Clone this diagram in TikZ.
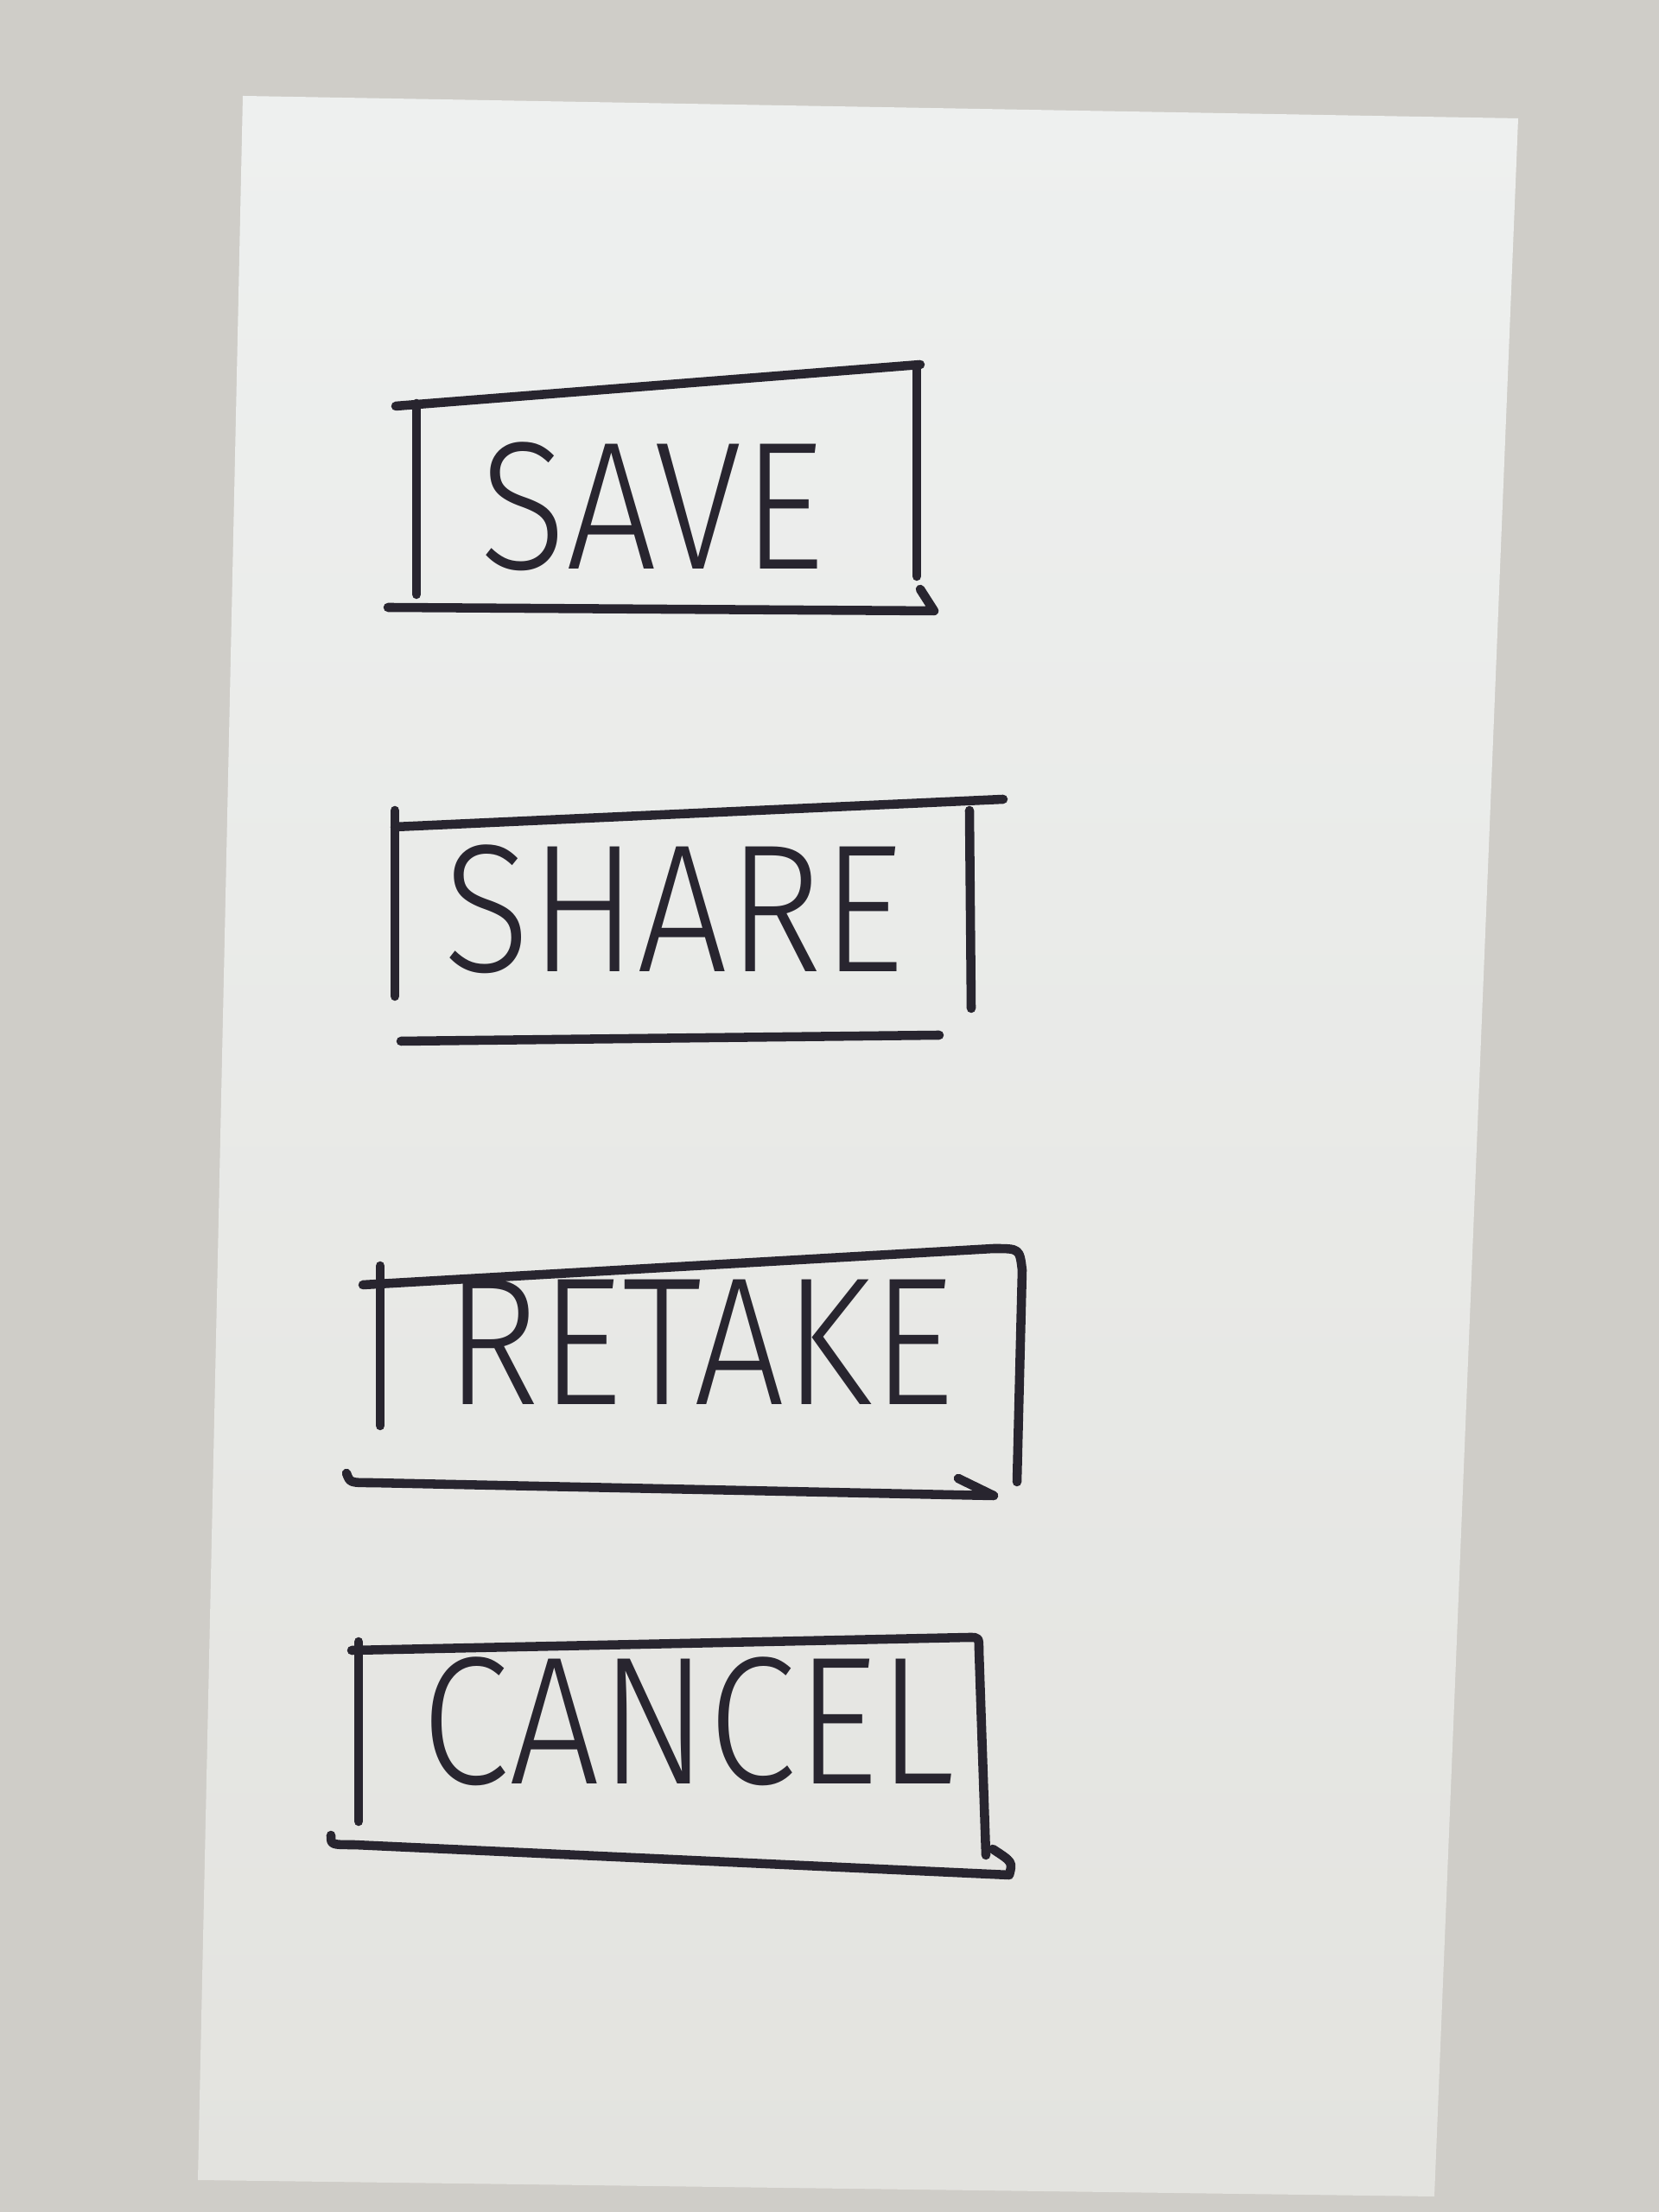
\documentclass[tikz,border=0pt]{standalone}
\usepackage{fontspec}
\setmainfont{Fira Sans Light}
\definecolor{ink}{HTML}{28252F}
\definecolor{desk}{HTML}{CFCDC8}
\definecolor{cardtop}{HTML}{EEF0EF}
\definecolor{cardbottom}{HTML}{E3E3DF}

\begin{document}
\begin{tikzpicture}[
    every node/.style={
        inner sep=0pt,
        text=ink,
        font=\fontsize{60}{60}\selectfont,
        xscale=.88
      },
    pen/.style={draw=ink, line width=3pt, line cap=round, line join=round}
    ]

    % ============= DESK AND CARD ==================
    \fill[desk] (0,0) rectangle (19.2,25.6);
    \useasboundingbox (0,0) rectangle (19.2,25.6);
    \shade[top color=cardtop, bottom color=cardbottom]
      (2.81,24.49) -- (17.57,24.23) -- (16.60,0.18) -- (2.29,0.37) -- cycle;

    % ============= BUTTONS ==================

    % -------------------------------
    \node (save) at (7.55,19.74) {SAVE};
    \draw[pen] (4.58,20.90) -- (10.65,21.38);
    \draw[pen] (4.82,20.93) -- (4.82,18.72);
    \draw[pen] (10.61,21.37) -- (10.61,18.93);
    \draw[pen] (4.49,18.57) -- (10.81,18.53) -- (10.65,18.78);
    % -------------------------------

    % -------------------------------
    \node (share) at (7.80,15.08) {SHARE};
    \draw[pen] (4.57,16.03) -- (11.61,16.35);
    \draw[pen] (4.57,16.22) -- (4.57,14.07);
    \draw[pen] (11.22,16.22) -- (11.24,13.93);
    \draw[pen] (4.64,13.55) -- (10.87,13.62);
    % -------------------------------

    % -------------------------------
    \node (retake) at (8.10,10.07) {RETAKE};
    \draw[pen] (4.20,10.73) -- (11.50,11.15)
      .. controls (11.80,11.15) .. (11.83,10.90) -- (11.77,8.45);
    \draw[pen] (4.40,10.95) -- (4.40,9.10);
    \draw[pen] (4.01,8.55) .. controls (4.05,8.44) .. (4.30,8.44)
      -- (11.50,8.29) -- (11.09,8.49);
    % -------------------------------

    % -------------------------------
    \node (cancel) at (7.96,5.68) {CANCEL};
    \draw[pen] (4.07,6.50) -- (11.22,6.65)
      .. controls (11.33,6.65) .. (11.33,6.50) -- (11.41,4.13);
    \draw[pen] (4.15,6.60) -- (4.15,4.52);
    \draw[pen] (3.83,4.36) .. controls (3.83,4.25) .. (4.10,4.25)
      -- (11.68,3.90) .. controls (11.72,4.05) .. (11.49,4.20);
    % -------------------------------

  \end{tikzpicture}
\end{document}
